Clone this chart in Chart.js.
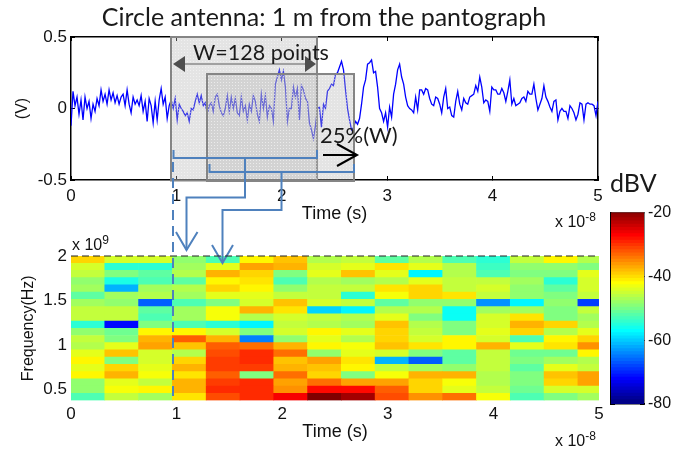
<!DOCTYPE html>
<html>
<head>
<meta charset="utf-8">
<title>Circle antenna</title>
<script src="https://cdn.jsdelivr.net/npm/chart.js@4/dist/chart.umd.js"></script>
<style>
    html, body { margin: 0; padding: 0; background: #fff; }
    #page { position: relative; width: 695px; height: 451px; overflow: hidden; }
    #page canvas, #page svg { position: absolute; }
    .callout { font-family: Lato, sans-serif; fill: #1a1a1a; }
    .exponent { font-family: "Liberation Sans", sans-serif; font-size: 16px; fill: #111; }
</style>
</head>
<body>
<div id="page">
    <canvas id="sinalChart" width="648" height="230" style="left:0;top:0"></canvas>
    <canvas id="mapaChart" width="648" height="216" style="left:0;top:235px"></canvas>
    <canvas id="barraChart" width="95" height="230" style="left:600px;top:195px"></canvas>

    <svg width="695" height="451" viewBox="0 0 695 451" style="left:0;top:0">
        <defs>
            <pattern id="pontos" width="3" height="3" patternUnits="userSpaceOnUse">
                <rect width="3" height="3" fill="rgba(180,180,180,0.36)"></rect>
                <rect x="1" y="1" width="1" height="1" fill="rgba(255,255,255,0.45)"></rect>
            </pattern>
        </defs>

        <!-- janelas de 128 pontos -->
        <rect x="171" y="37" width="146" height="143.5" fill="url(#pontos)" stroke="#858585" stroke-width="2"></rect>
        <rect x="207" y="74" width="147" height="107" fill="url(#pontos)" stroke="#858585" stroke-width="2"></rect>

        <!-- seta W -->
        <line x1="180" y1="64" x2="310" y2="64" stroke="#a0a0a0" stroke-width="2"></line>
        <path d="M173,64 L185,56 L185,72 Z M316,64 L305,56 L305,72 Z" fill="#4d4d4d"></path>
        <text class="callout" x="193" y="60" font-size="21.5">W=128 points</text>

        <!-- seta 25% -->
        <text class="callout" x="320" y="143" font-size="22">25%(W)</text>
        <path d="M323,155 L357,155 M337,144 L357,155 L337,166" fill="none" stroke="#000" stroke-width="2"></path>

        <!-- conexoes azuis -->
        <g fill="none" stroke="#4f81bd" stroke-width="2">
            <path d="M173.5,150 V158 H317 V150"></path>
            <path d="M245,158 V197.5 H186.5 V250"></path>
            <path d="M176,232 L186.5,250 L197.5,232"></path>
            <path d="M209.5,164 V172 H354 V164"></path>
            <path d="M281.5,172 V210 H222.5 V263"></path>
            <path d="M212,245 L222.5,263 L233,245"></path>
            <path d="M173,162 V401" stroke-dasharray="10 6"></path>
        </g>

        <!-- topo tracejado do mapa -->
        <line x1="71" y1="256" x2="599" y2="256" stroke="#222" stroke-width="1" stroke-dasharray="7 4"></line>

        <!-- expoentes -->
        <text class="exponent" x="555" y="227">x 10<tspan dy="-6" font-size="12">-8</tspan></text>
        <text class="exponent" x="555" y="446">x 10<tspan dy="-6" font-size="12">-8</tspan></text>
        <text class="exponent" x="72" y="250">x 10<tspan dy="-6" font-size="12">9</tspan></text>

        <text class="callout" x="610" y="192" font-size="25">dBV</text>
    </svg>
</div>

<script>
// Sinal no tempo (V), lido a cada ~2 px do grafico
const tensao = [
    -0.12, 0.12, 0.02, 0.08, -0.04, 0.06, -0.08, 0.08, 0.0, 0.05,
    -0.07, 0.03, -0.02, 0.07, 0.02, 0.13, 0.05, 0.10, 0.03, 0.13,
    0.06, 0.11, 0.04, 0.09, 0.03, 0.08, 0.10, 0.02, 0.13, 0.03,
    -0.03, 0.08, 0.03, 0.06, 0.02, 0.09, -0.02, 0.05, -0.09, 0.07,
    0.02, -0.10, 0.05, -0.08, 0.06, 0.14, 0.03, 0.08, -0.07, 0.02,
    0.06, 0.0, 0.07, -0.08, 0.03, 0.0, -0.02, -0.05, -0.03, -0.09,
    0.0, -0.01, 0.05, 0.10, 0.04, 0.09, 0.02, 0.04, -0.04, 0.02,
    0.04, -0.02, 0.08, 0.10, 0.02, -0.03, -0.05, 0.0, 0.09, -0.02,
    0.08, 0.0, 0.07, -0.03, -0.05, 0.08, -0.02, 0.02, -0.08, 0.03,
    -0.02, 0.09, 0.05, -0.04, -0.09, 0.10, 0.0, 0.09, -0.06, 0.02,
    0.0, -0.09, 0.17, 0.22, 0.27, 0.20, 0.26, 0.15, -0.09, 0.0,
    0.0, 0.15, 0.08, 0.14, -0.08, 0.16, 0.13, 0.07, 0.05, -0.10,
    -0.15, -0.21, -0.12, 0.0, 0.01, -0.13, 0.03, 0.0, 0.12, 0.14,
    0.17, 0.16, 0.24, 0.25, 0.29, 0.33, 0.27, 0.13, 0.0, -0.08,
    -0.15, -0.13, -0.09, -0.11, -0.07, 0.03, 0.15, 0.20, 0.31, 0.32,
    0.34, 0.25, 0.26, 0.15, 0.0, -0.03, -0.09, -0.03, -0.13, 0.01,
    -0.06, 0.10, 0.17, 0.27, 0.31,
    0.22, 0.17, 0.08, 0.02, 0.0, -0.01, -0.03, 0.08, -0.01, 0.13,
    0.13, 0.10, 0.14, 0.13, 0.07, 0.03, 0.02, 0.08, 0.07, 0.03,
    -0.03, 0.08, 0.14, 0.0, 0.01, -0.05, -0.06, 0.05, 0.12, 0.03,
    -0.01, 0.07, 0.04, 0.03, 0.08, 0.09, 0.10, 0.16, 0.12, 0.22,
    0.15, 0.04, 0.06, 0.05, -0.02, 0.15, 0.13, 0.13, 0.10, 0.10,
    0.14, 0.11, 0.05, 0.12, 0.20, 0.03, 0.07, 0.02, 0.03, 0.04,
    0.07, 0.08, 0.05, 0.12, 0.10, 0.10, 0.17, 0.07, -0.01, 0.03,
    0.07, 0.16, 0.08, 0.05, 0.01, -0.02, 0.05, 0.06, -0.08, -0.02,
    0.0, -0.02, -0.02, -0.07, 0.02, 0.0, -0.03, -0.08, -0.04, 0.04,
    0.03, -0.08, 0.03, 0.04, 0.03, 0.03, 0.02, -0.05, 0.05
];
const passoTempo = 5 / (tensao.length - 1); // unidades de 1e-8 s

const ticksTempo = [0, 1, 2, 3, 4, 5];
const ticksTensao = [-0.5, 0, 0.5];
const ticksFreq = [0.5, 1, 1.5, 2];
const ticksBarra = [-80, -60, -40, -20];

// Espectrograma em dBV, uma linha por faixa de frequencia (de 2 GHz para baixo)
const larguraColuna = 0.32;
const freqTopo = 2;
const freqBase = 0.38;
const mapaDb = [
    [-40, -45, -45, -49, -53, -42, -39, -47, -46, -52, -47, -53, -55, -46, -42, -47],
    [-45, -55, -55, -48, -44, -37, -38, -45, -44, -41, -44, -47, -54, -49, -49, -50],
    [-46, -50, -52, -47, -38, -40, -50, -44, -39, -44, -58, -47, -53, -50, -50, -44],
    [-49, -56, -53, -52, -42, -41, -53, -47, -48, -47, -44, -46, -46, -48, -55, -45],
    [-48, -62, -48, -47, -40, -42, -49, -46, -46, -41, -40, -46, -45, -49, -52, -45],
    [-52, -48, -47, -48, -44, -44, -46, -46, -55, -43, -40, -41, -46, -49, -50, -46],
    [-48, -49, -67, -53, -50, -45, -39, -45, -46, -52, -49, -49, -64, -58, -49, -69],
    [-46, -46, -52, -48, -43, -38, -41, -60, -58, -47, -47, -57, -48, -48, -50, -46],
    [-46, -46, -53, -48, -43, -47, -45, -46, -47, -44, -50, -57, -45, -41, -50, -48],
    [-55, -72, -50, -53, -55, -58, -46, -47, -48, -39, -47, -50, -45, -38, -40, -47],
    [-49, -51, -42, -42, -45, -50, -45, -42, -44, -40, -46, -50, -44, -40, -47, -44],
    [-46, -50, -38, -33, -38, -65, -49, -44, -47, -40, -45, -42, -45, -53, -42, -40],
    [-47, -44, -37, -39, -33, -34, -38, -42, -43, -39, -41, -42, -38, -44, -41, -36],
    [-44, -39, -45, -47, -32, -30, -34, -49, -44, -45, -50, -52, -46, -51, -51, -42],
    [-42, -50, -45, -40, -31, -30, -39, -37, -41, -62, -67, -52, -46, -50, -48, -47],
    [-44, -40, -44, -38, -31, -31, -38, -39, -42, -46, -48, -49, -46, -52, -44, -46],
    [-42, -38, -43, -41, -33, -50, -34, -40, -50, -43, -38, -38, -47, -50, -39, -37],
    [-49, -44, -46, -38, -31, -30, -37, -34, -37, -37, -40, -43, -47, -50, -40, -37],
    [-49, -43, -42, -38, -30, -30, -36, -28, -28, -33, -40, -44, -46, -51, -45, -45],
    [-53, -46, -48, -41, -32, -30, -27, -20, -22, -32, -36, -34, -43, -53, -50, -48]
];

// Niveis da barra de cores, em dB
const niveisBarra = [
    -80, -79, -78, -77, -76, -75, -74, -73, -72, -71, -70, -69, -68, -67, -66,
    -65, -64, -63, -62, -61, -60, -59, -58, -57, -56, -55, -54, -53, -52, -51,
    -50, -49, -48, -47, -46, -45, -44, -43, -42, -41, -40, -39, -38, -37, -36,
    -35, -34, -33, -32, -31, -30, -29, -28, -27, -26, -25, -24, -23, -22, -21
];

const fonteTicks = { family: '"Liberation Sans", sans-serif', size: 17 };
const fonteBarra = { family: '"Liberation Sans", sans-serif', size: 16 };
const corTexto = '#111';

/**
 * Mapa de cores jet para o intervalo -80..-20 dBV.
 */
function corJet(db) {
    const t = (db + 80) / 60;
    const canal = c => Math.round(255 * Math.max(0, Math.min(1, 1.5 - Math.abs(4 * t - c))));
    return `rgb(${canal(3)},${canal(2)},${canal(1)})`;
}

// Eixo so para fechar a caixa, com marcas para dentro e sem rotulos
function eixoCaixa(posicao, ticks, larguraBorda) {
    return {
        position: posicao,
        type: 'linear',
        afterBuildTicks: s => { s.ticks = ticks.map(v => ({ value: v })); },
        afterFit: s => {
            if (s.isHorizontal()) s.height = 0; else s.width = 0;
        },
        ticks: { display: false },
        grid: { drawOnChartArea: false, tickLength: -4, color: '#000', tickWidth: 1 },
        border: { color: '#000', width: larguraBorda }
    };
}

function desenharSinal() {
    const ctx = document.getElementById('sinalChart').getContext('2d');
    new Chart(ctx, {
        type: 'line',
        data: {
            datasets: [{
                data: tensao.map((v, i) => ({ x: i * passoTempo, y: v })),
                borderColor: '#0000ff',
                borderWidth: 1.3,
                pointRadius: 0,
                tension: 0
            }]
        },
        options: {
            responsive: false,
            animation: false,
            layout: { padding: { left: 0, right: 0, top: 0, bottom: 0 } },
            plugins: {
                legend: { display: false },
                tooltip: { enabled: false },
                title: {
                    display: true,
                    text: 'Circle antenna: 1 m from the pantograph',
                    color: '#1a1a1a',
                    font: { family: 'Lato, sans-serif', size: 25, weight: 'normal', lineHeight: 1.2 },
                    padding: { top: 3, bottom: 4 }
                }
            },
            scales: {
                x: {
                    type: 'linear', min: 0, max: 5,
                    afterBuildTicks: s => { s.ticks = ticksTempo.map(v => ({ value: v })); },
                    afterFit: s => { s.height = 50; },
                    ticks: { color: corTexto, font: fonteTicks, padding: 10, maxRotation: 0 },
                    grid: { drawOnChartArea: false, tickLength: -4, color: '#000' },
                    border: { color: '#000', width: 1.5 },
                    title: { display: true, text: 'Time (s)', color: corTexto, font: { family: '"Liberation Sans", sans-serif', size: 18 }, padding: { top: 0, bottom: 5 } }
                },
                y: {
                    min: -0.5, max: 0.5,
                    afterBuildTicks: s => { s.ticks = ticksTensao.map(v => ({ value: v })); },
                    afterFit: s => { s.width = 71; },
                    ticks: { color: corTexto, font: fonteTicks, padding: 8, callback: v => String(v) },
                    grid: { drawOnChartArea: false, tickLength: -4, color: '#000' },
                    border: { color: '#000', width: 1.5 },
                    title: { display: true, text: '(V)', color: corTexto, font: { family: '"Liberation Sans", sans-serif', size: 16 }, padding: { top: 13, bottom: 0 } }
                },
                xCima: Object.assign(eixoCaixa('top', ticksTempo, 1.5), { axis: 'x', min: 0, max: 5 }),
                // a largura extra deixa o titulo centrado como no original
                yDir: Object.assign(eixoCaixa('right', ticksTensao, 1.5), { axis: 'y', min: -0.5, max: 0.5, afterFit: s => { s.width = 50; } })
            }
        }
    });
}

function desenharMapa() {
    const altLinha = (freqTopo - freqBase) / mapaDb.length;
    const celulas = [];
    mapaDb.forEach((linha, l) => {
        linha.forEach((db, c) => {
            celulas.push({
                x: (c + 0.5) * larguraColuna,
                y: [freqTopo - (l + 1) * altLinha, freqTopo - l * altLinha],
                db: db
            });
        });
    });

    const ctx = document.getElementById('mapaChart').getContext('2d');
    new Chart(ctx, {
        type: 'bar',
        data: {
            datasets: [{
                data: celulas,
                backgroundColor: c => corJet(c.raw.db),
                borderWidth: 0,
                barPercentage: 1,
                categoryPercentage: 1
            }]
        },
        options: {
            responsive: false,
            animation: false,
            layout: { padding: { left: 0, right: 49, top: 21, bottom: 0 } },
            plugins: { legend: { display: false }, tooltip: { enabled: false } },
            scales: {
                x: {
                    type: 'linear', min: 0, max: 5, offset: false,
                    afterBuildTicks: s => { s.ticks = ticksTempo.map(v => ({ value: v })); },
                    afterFit: s => { s.height = 50.5; },
                    ticks: { color: corTexto, font: fonteTicks, padding: 8, maxRotation: 0 },
                    grid: { drawOnChartArea: false, tickLength: -4, tickColor: 'rgba(0,0,0,0)', offset: false },
                    border: { display: false },
                    title: { display: true, text: 'Time (s)', color: corTexto, font: { family: '"Liberation Sans", sans-serif', size: 18 }, padding: { top: 0, bottom: 8 } }
                },
                y: {
                    min: freqBase, max: freqTopo,
                    afterBuildTicks: s => { s.ticks = ticksFreq.map(v => ({ value: v })); },
                    afterFit: s => { s.width = 71; },
                    ticks: { color: corTexto, font: fonteTicks, padding: 8, callback: v => String(v) },
                    grid: { drawOnChartArea: false, tickLength: -4, tickColor: 'rgba(0,0,0,0)' },
                    border: { display: false },
                    title: { display: true, text: 'Frequency(Hz)', color: corTexto, font: { family: '"Liberation Sans", sans-serif', size: 16 }, padding: { top: 19, bottom: 0 } }
                }
            }
        }
    });
}

function desenharBarra() {
    const ctx = document.getElementById('barraChart').getContext('2d');
    new Chart(ctx, {
        type: 'bar',
        data: {
            labels: ['dBV'],
            datasets: niveisBarra.map(v => ({
                data: [[v, v + 1.4]],
                backgroundColor: corJet(v + 0.5),
                borderWidth: 0,
                grouped: false,
                barPercentage: 1,
                categoryPercentage: 1
            }))
        },
        options: {
            responsive: false,
            animation: false,
            layout: { padding: { left: 11, right: 0, top: 17, bottom: 21 } },
            plugins: { legend: { display: false }, tooltip: { enabled: false } },
            scales: {
                x: {
                    afterFit: s => { s.height = 0; },
                    ticks: { display: false },
                    grid: { display: false },
                    border: { color: '#000', width: 1.5 }
                },
                y: {
                    position: 'right',
                    min: -80, max: -20,
                    afterBuildTicks: s => { s.ticks = ticksBarra.map(v => ({ value: v })); },
                    afterFit: s => { s.width = 51; },
                    ticks: { color: corTexto, font: fonteBarra, padding: 8 },
                    grid: { drawOnChartArea: false, tickLength: -4, color: '#000' },
                    border: { color: '#000', width: 1.5 }
                },
                xCima: {
                    position: 'top', type: 'linear', axis: 'x',
                    afterFit: s => { s.height = 0; },
                    ticks: { display: false },
                    grid: { display: false },
                    border: { color: '#555', width: 1.5 }
                },
                yEsq: Object.assign(eixoCaixa('left', ticksBarra, 1.5), { axis: 'y', min: -80, max: -20 })
            }
        }
    });
}

// --- INICIALIZACAO ---
desenharSinal();
desenharMapa();
desenharBarra();
</script>
</body>
</html>
